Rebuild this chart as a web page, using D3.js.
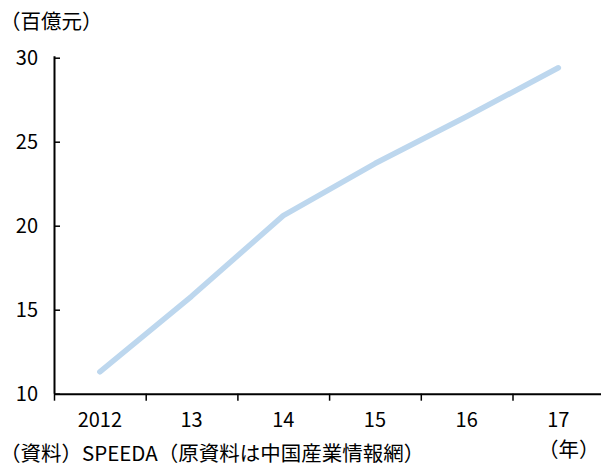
<!DOCTYPE html>
<html>
<head>
<meta charset="utf-8">
<script src="https://cdn.jsdelivr.net/npm/d3@7"></script>
<style>
  html, body { margin: 0; padding: 0; background: #fff; }
  svg { display: block; }
  .num { font-family: "Noto Sans CJK JP", sans-serif; font-size: 20px; fill: #000; }
  .jp { font-family: "Noto Sans CJK JP", sans-serif; font-size: 20.5px; fill: #000; }
</style>
</head>
<body>
<script>
// Annual market size, hundreds of billions of yuan
const years = ["2012", "13", "14", "15", "16", "17"];
const values = [11.3, 15.8, 20.6, 23.7, 26.5, 29.4];
const yTicks = [10, 15, 20, 25, 30];
const unitLabel = "（百億元）";
const yearLabel = "（年）";
const sourceLabel = "（資料）SPEEDA（原資料は中国産業情報網）";

const W = 601, H = 466;
const plotLeft = 54, plotRight = 604.2, plotTop = 57.7, plotBottom = 393.7;

const svg = d3.select("body").append("svg")
  .attr("width", W).attr("height", H);

const x = d3.scaleBand().domain(years).range([plotLeft, plotRight]).padding(0);
const y = d3.scaleLinear().domain([10, 30]).range([plotBottom, plotTop]);

// Line series
const line = d3.line()
  .x((d, i) => x(years[i]) + x.bandwidth() / 2)
  .y(d => y(d));

svg.append("path")
  .datum(values)
  .attr("d", line)
  .attr("fill", "none")
  .attr("stroke", "#bdd7ee")
  .attr("stroke-width", 5.5)
  .attr("stroke-linecap", "round")
  .attr("stroke-linejoin", "round");

// Y axis: inward ticks, labels on the left
const yAxis = d3.axisLeft(y)
  .tickValues(yTicks)
  .tickSizeInner(-6)
  .tickSizeOuter(0)
  .tickPadding(16)
  .tickFormat(d3.format("d"));

const gy = svg.append("g")
  .attr("transform", `translate(${plotLeft},0)`)
  .call(yAxis);
gy.select(".domain").attr("stroke", "#000").attr("stroke-width", 2)
  .attr("d", `M0.5,${plotTop - 1.5}V${plotBottom}`);
gy.selectAll(".tick line").attr("stroke", "#000").attr("stroke-width", 1.5);
gy.selectAll(".tick text").attr("class", "num").attr("dy", "0.35em");

// X axis: labels centred in each band, ticks on band edges
const xAxis = d3.axisBottom(x).tickSize(0).tickPadding(19);
const gx = svg.append("g")
  .attr("transform", `translate(0,${plotBottom})`)
  .call(xAxis);
gx.select(".domain").attr("stroke", "#000").attr("stroke-width", 2)
  .attr("d", `M${plotLeft},0.5H${plotRight}`);
gx.selectAll(".tick text").attr("class", "num").attr("dy", "0.71em");

const edges = years.map(c => x(c)).concat([x.range()[1]]);
gx.selectAll(".edge")
  .data(edges)
  .enter().append("line")
  .attr("class", "edge")
  .attr("x1", d => d + 0.5).attr("x2", d => d + 0.5)
  .attr("y1", 0).attr("y2", 7)
  .attr("stroke", "#000").attr("stroke-width", 1.5);

// Unit, year marker and source note
svg.append("text").attr("class", "jp")
  .attr("x", 0).attr("y", 29).text(unitLabel);

svg.append("text").attr("class", "jp")
  .attr("x", 538).attr("y", 457).text(yearLabel);

svg.append("text").attr("class", "jp")
  .attr("x", 0).attr("y", 461).text(sourceLabel);
</script>
</body>
</html>
